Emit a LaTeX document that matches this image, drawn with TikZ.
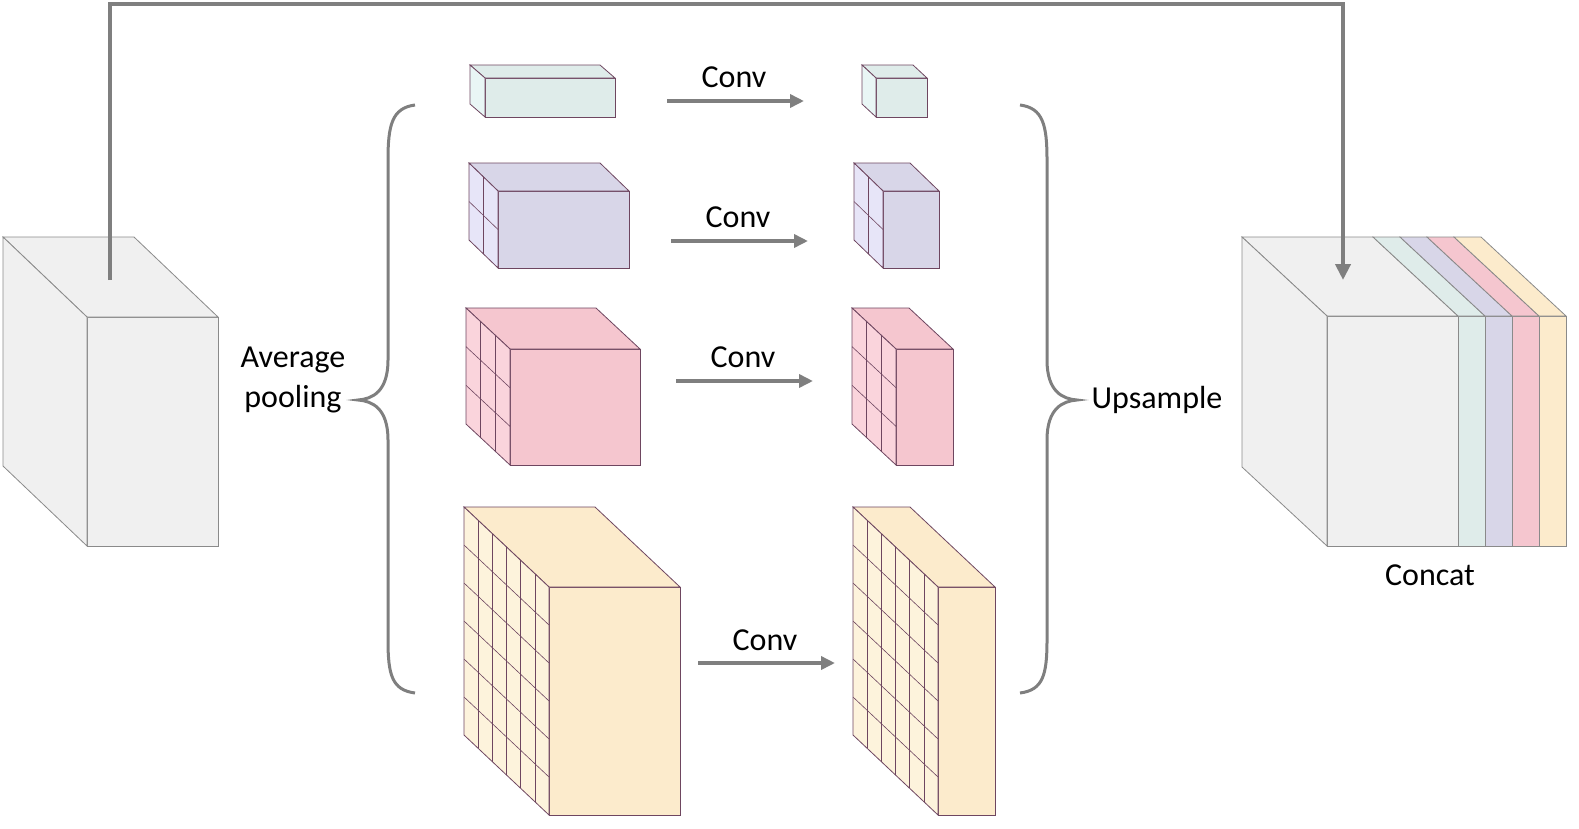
\documentclass[tikz,border=0pt]{standalone}
\usepackage{fontspec}
\setmainfont{Carlito}
\usetikzlibrary{arrows.meta}
\definecolor{edgec}{HTML}{6E4660}
\definecolor{gedge}{HTML}{8A8A8A}
\definecolor{gfill}{HTML}{F0F0F0}
\definecolor{tf}{HTML}{DFECEA}\definecolor{ts}{HTML}{E9F6F5}
\definecolor{lf}{HTML}{D8D6E8}\definecolor{ls}{HTML}{E7E5F8}
\definecolor{pf}{HTML}{F5C6CF}\definecolor{ps}{HTML}{FAD4DC}
\definecolor{yf}{HTML}{FCEBCC}\definecolor{ys}{HTML}{FDF3DC}
\definecolor{arr}{HTML}{7F7F7F}
\newcommand\blk[9]{%
 \filldraw[fill=#7,draw=edgec,line width=0.8pt] (#1,#2) rectangle (#3,#4);
 \filldraw[fill=#7,draw=edgec,line width=0.8pt] (#1,#2) -- ++(-#5,-#6) -- ++(#3-#1,0) -- (#3,#2) -- cycle;
 \filldraw[fill=#8,draw=edgec,line width=0.8pt] (#1,#2) -- ++(-#5,-#6) -- ++(0,#4-#2) -- (#1,#4) -- cycle;
 \ifnum#9>1
 \pgfmathtruncatemacro\nm{#9-1}
 \foreach \i in {1,...,\nm}{
  \draw[edgec,line width=0.6pt] ({#1-#5*(1-\i/#9)},{#2-#6*(1-\i/#9)}) -- ({#1-#5*(1-\i/#9)},{#4-#6*(1-\i/#9)});
  \draw[edgec,line width=0.6pt] ({#1-#5},{#2-#6+\i/#9*(#4-#2)}) -- ({#1},{#2+\i/#9*(#4-#2)});
 }
 \fi
}
\begin{document}
\begin{tikzpicture}[x=1pt,y=-1pt,
  lbl/.style={font=\fontsize{32}{34}\selectfont,inner sep=0pt},
  conv/.style={-{Triangle[length=14pt,width=13pt]},arr,line width=4pt},
  brace/.style={draw=arr,line width=3pt}]
\useasboundingbox (0,0) rectangle (1579,828);
% input cube
\filldraw[fill=gfill,draw=gedge,line width=0.8pt] (87,317) rectangle (218,546);
\filldraw[fill=gfill,draw=gedge,line width=0.8pt] (87,317) -- ++(-84,-80) -- ++(131,0) -- (218,317) -- cycle;
\filldraw[fill=gfill,draw=gedge,line width=0.8pt] (87,317) -- ++(-84,-80) -- ++(0,229) -- (87,546) -- cycle;
\coordinate (skipA) at (110,280);
% concat cube
\filldraw[fill=gfill,draw=gedge,line width=0.8pt] (1327,316) rectangle (1458,546);
\filldraw[fill=gfill,draw=gedge,line width=0.8pt] (1327,316) -- ++(-85,-79) -- ++(131,0) -- (1458,316) -- cycle;
\filldraw[fill=gfill,draw=gedge,line width=0.8pt] (1327,316) -- ++(-85,-79) -- ++(0,230) -- (1327,546) -- cycle;
\foreach \c [count=\k from 0] in {tf,lf,pf,yf}{
  \pgfmathsetmacro\xa{1458+27*\k}
  \filldraw[fill=\c,draw=gedge,line width=0.8pt] (\xa,316) rectangle (\xa+27,546);
  \filldraw[fill=\c,draw=gedge,line width=0.8pt] (\xa,316) -- ++(-85,-79) -- ++(27,0) -- (\xa+27,316) -- cycle;
}
\coordinate (skipB) at (1343,280);
\draw[arr,line width=4pt,-{Triangle[length=16pt,width=15pt]}] (skipA) -- (110,4) -- (1343,4) -- (skipB);
% rows
\blk{485}{78}{615}{117}{15}{13}{tf}{ts}{1}
\blk{876}{78}{927}{117}{14}{13}{tf}{ts}{1}
\blk{498}{191}{629}{268}{29}{28}{lf}{ls}{2}
\blk{883}{191}{939}{268}{29}{28}{lf}{ls}{2}
\blk{510}{349}{640}{465}{44}{41}{pf}{ps}{3}
\blk{896}{349}{953}{465}{44}{41}{pf}{ps}{3}
\blk{549}{587}{680}{815}{85}{80}{yf}{ys}{6}
\blk{938}{587}{995}{815}{85}{80}{yf}{ys}{6}
% conv arrows
\foreach \xs/\y/\ty in {667/101/77, 671/241/217, 676/381/357, 698/663/640}{
  \coordinate (s) at (\xs,\y); \coordinate (e) at (\xs+137,\y);
  \draw[conv] (s) -- (e);
  \node[lbl] at (\xs+67,\ty) {Conv};
}
% braces
\draw[brace] (415,105) .. controls (392,108) and (388,125) .. (388,160) -- (388,360)
  .. controls (388,392) and (372,399) .. (358,400)
  .. controls (372,401) and (388,408) .. (388,440) -- (388,640)
  .. controls (388,675) and (392,690) .. (415,693);
\draw[brace] (1020,105) .. controls (1043,108) and (1047,125) .. (1047,160) -- (1047,360)
  .. controls (1047,392) and (1063,399) .. (1077,400)
  .. controls (1063,401) and (1047,408) .. (1047,440) -- (1047,640)
  .. controls (1047,675) and (1043,690) .. (1020,693);
\node[lbl,align=center,font=\fontsize{32}{40}\selectfont] (avg) at (293,380) {Average\\pooling};
\node[lbl] (ups) at (1157,400) {Upsample};
\node[lbl] (cat) at (1430,575) {Concat};
\end{tikzpicture}
\end{document}
